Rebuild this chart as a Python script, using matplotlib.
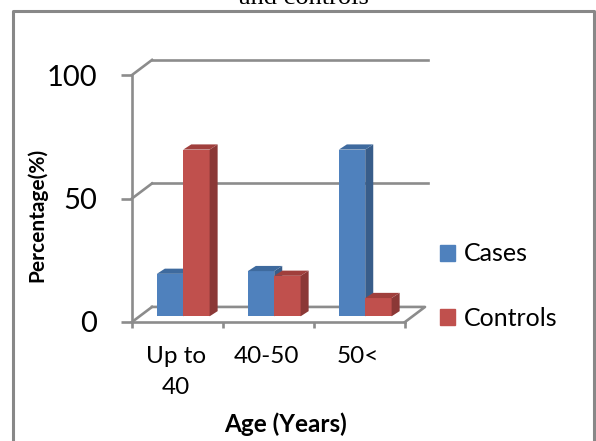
import matplotlib
matplotlib.use('Agg')
import matplotlib.pyplot as plt
from matplotlib.patches import Patch


categories = ['Up to\n40', '40-50', '50<']
cases = [17.2, 18.3, 67.5]
controls = [67.5, 16.4, 7.4]
yticks = [0, 50, 100]

W, H = 596, 441
GRID = '#8c8c8c'
BLUE = ('#4f81bd', '#385d8a', '#3e6a9e')     # front, side, top
RED = ('#c0504d', '#8b3836', '#a03f3c')


def bar3d(ax, x0, w, base, h, dx, dy, cols):
    ax.bar(x0, h, width=w, bottom=base, align='edge', color=cols[0],
           linewidth=0, clip_on=False, zorder=3)
    ax.fill([x0 + w, x0 + w + dx, x0 + w + dx, x0 + w],
            [base, base + dy, base + dy + h, base + h],
            color=cols[1], lw=0, clip_on=False, zorder=3)
    ax.fill([x0, x0 + w, x0 + w + dx, x0 + dx],
            [base + h, base + h, base + h + dy, base + h + dy],
            color=cols[2], lw=0, clip_on=False, zorder=3)


def plot_age_chart():
    fig = plt.figure(figsize=(W / 100, H / 100), dpi=100)
    plt.rcParams['font.family'] = ['Lato', 'DejaVu Sans']

    # chart frame (bottom edge is off the picture)
    fig.add_artist(plt.Line2D([13 / W, 13 / W, 594 / W, 594 / W],
                              [0, 1 - 11 / H, 1 - 11 / H, 0],
                              transform=fig.transFigure, color='#888888', lw=2.2))
    fig.text(304 / W, 1 - 4.5 / H, 'and controls', family='Liberation Serif',
             fontsize=19, ha='center', va='baseline')

    ax = fig.add_axes([132 / W, (H - 322) / H, 273 / W, 247 / H])
    ax.set_xlim(0, 3)
    ax.set_ylim(0, 100)
    ax.patch.set_visible(False)

    # depth of the walls / bars, in data units
    dxw, dyw = 0.22, 6.1
    ox, oy = 0.063, 2.3
    bw = 0.29
    bdx, bdy = 0.088, 2.1

    # back wall gridlines and left wall diagonals
    for v in yticks:
        ax.plot([0, dxw], [v, v + dyw], color=GRID, lw=1.9, clip_on=False, zorder=1)
        if v > 0:
            ax.plot([dxw, 3.25], [v + dyw, v + dyw], color=GRID, lw=1.9,
                    clip_on=False, zorder=1)
    # floor
    ax.plot([dxw, 3 + dxw, 3], [dyw, dyw, 0], color=GRID, lw=1.9,
            clip_on=False, zorder=1)

    for i in range(len(categories)):
        bar3d(ax, i + 0.5 + ox - bw, bw, oy, cases[i], bdx, bdy, BLUE)
        bar3d(ax, i + 0.5 + ox, bw, oy, controls[i], bdx, bdy, RED)

    for s in ['top', 'right']:
        ax.spines[s].set_visible(False)
    for s in ['left', 'bottom']:
        ax.spines[s].set_color(GRID)
        ax.spines[s].set_linewidth(1.9)

    ax.set_yticks(yticks)
    ax.set_yticklabels([str(v) for v in yticks])
    ax.tick_params(axis='y', direction='out', length=8, width=1.9, color=GRID,
                   labelsize=21, pad=17)
    ax.set_xticks([0.48, 1.48, 2.48])
    ax.set_xticklabels(categories, linespacing=1.6)
    ax.set_xticks([0, 1, 2, 3], minor=True)
    ax.tick_params(axis='x', which='major', length=0, labelsize=17.5, pad=17)
    ax.tick_params(axis='x', which='minor', direction='out', length=4.5,
                   width=1.9, color=GRID)

    fig.text(37 / W, 1 - 215 / H, 'Percentage(%)', rotation=90, fontsize=15,
             fontweight='bold', ha='center', va='center')
    fig.text(286 / W, 1 - 424 / H, 'Age (Years)', fontsize=17.5,
             fontweight='bold', ha='center', va='center')

    handles = [Patch(color=BLUE[0], label='Cases'),
               Patch(color=RED[0], label='Controls')]
    fig.legend(handles=handles, loc='center left', bbox_to_anchor=(440 / W, 1 - 286 / H),
               frameon=False, fontsize=18, handlelength=0.6, handleheight=0.6,
               handletextpad=0.35, labelspacing=1.65, borderpad=0, borderaxespad=0)

    plt.savefig('out.png', dpi=100)
    plt.close()


if __name__ == '__main__':
    plot_age_chart()
